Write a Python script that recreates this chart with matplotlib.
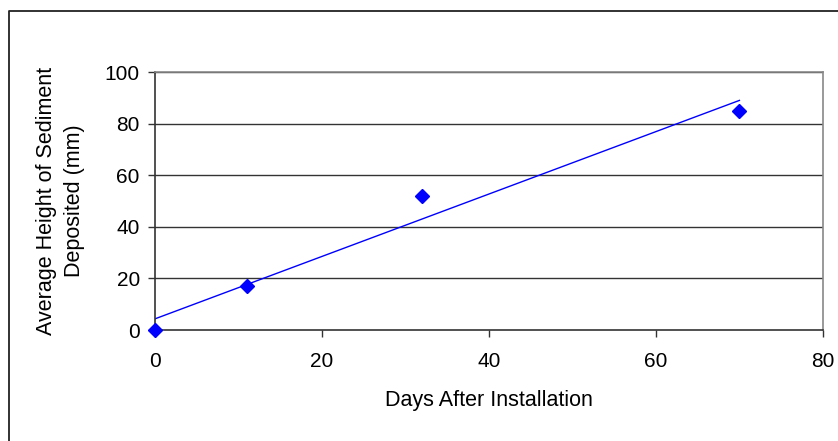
import numpy as np
import matplotlib.pyplot as plt
from matplotlib.lines import Line2D

plt.rcParams['font.family'] = ['Liberation Sans', 'DejaVu Sans']

days = [0, 11, 32, 70]
height_mm = [0, 17, 52, 85]
xticks = [0, 20, 40, 60, 80]
yticks = [0, 20, 40, 60, 80, 100]

# linear trendline like excel
slope, icept = np.polyfit(days, height_mm, 1)
xfit = np.array([min(days), max(days)])
yfit = slope * xfit + icept

fig = plt.figure(figsize=(8.38, 4.41), dpi=100)
ax = fig.add_axes([0.185, 0.2517, 0.797, 0.585])

# chart border, only top and left show (rest is cut off)
bx, by = 8.5 / 838, 1 - 10.5 / 441
fig.lines.append(Line2D([bx, bx, 1.0], [0.0, by, by], transform=fig.transFigure,
                        color='#222222', linewidth=1.3))

for y in yticks[1:]:
    ax.axhline(y, color='#333333', linewidth=1, zorder=1)

ax.plot(xfit, yfit, color='blue', linewidth=1, zorder=2)
ax.plot(days, height_mm, linestyle='none', marker='D', markersize=7,
        color='blue', clip_on=False, zorder=3)

ax.set_xlim(0, 80)
ax.set_ylim(0, 100)
ax.set_xticks(xticks)
ax.set_yticks(yticks)

ax.spines['left'].set_color('#333333')
ax.spines['bottom'].set_color('#333333')
ax.spines['top'].set_color('#888888')
ax.spines['right'].set_color('#888888')
for s in ax.spines.values():
    s.set_linewidth(1.2)

ax.tick_params(axis='x', direction='out', length=5, width=1, pad=11, labelsize=15, color='#333333')
ax.tick_params(axis='y', direction='out', length=5, width=1, pad=6, labelsize=15, color='#333333')

ax.set_xlabel('Days After Installation', fontsize=15.5, va='center')
ax.xaxis.set_label_coords(0.5, -0.275)
ax.set_ylabel('Average Height of Sediment\nDeposited (mm)', fontsize=15.5,
              linespacing=1.45, va='center')
ax.yaxis.set_label_coords(-0.142, 0.5)

fig.savefig('out.png', dpi=100)
